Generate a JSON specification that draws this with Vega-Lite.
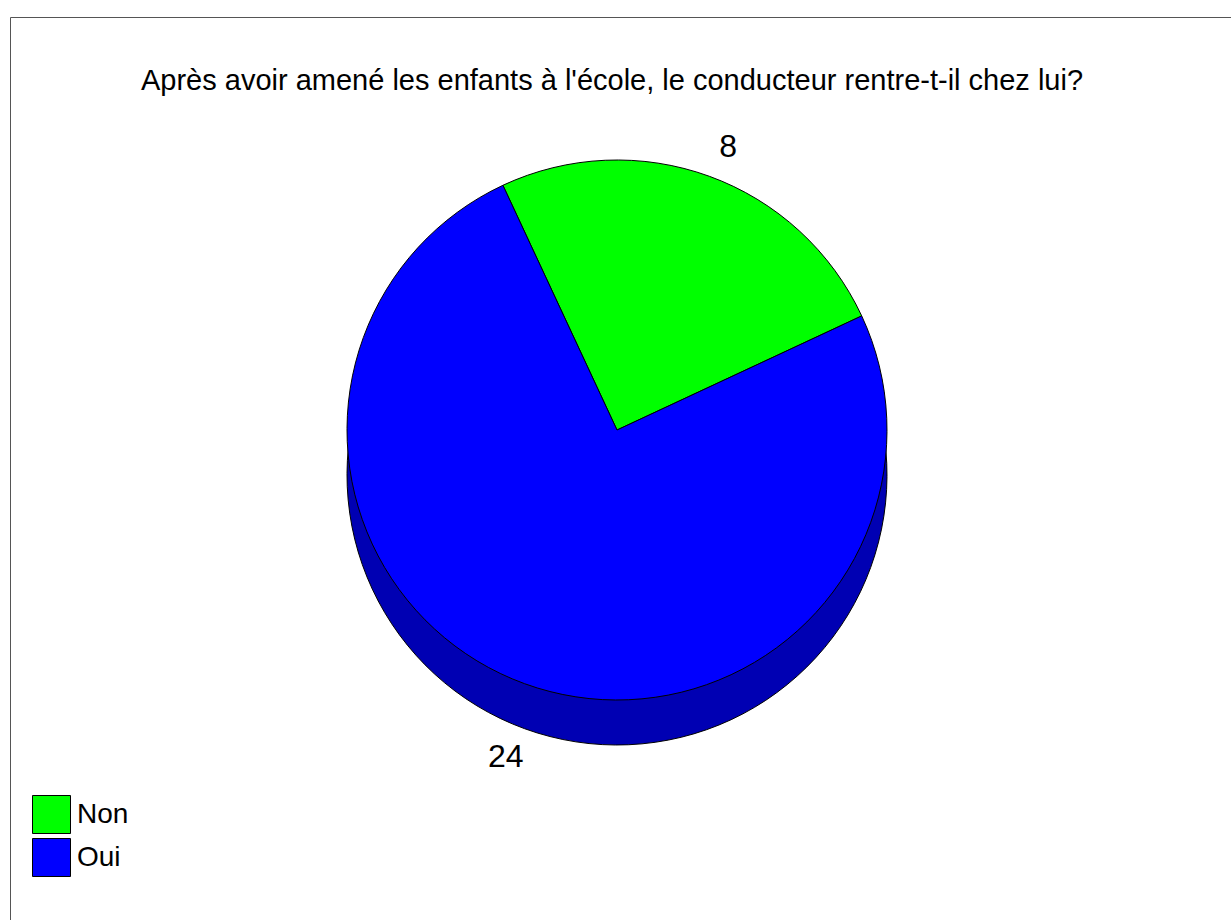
{
  "$schema": "https://vega.github.io/schema/vega-lite/v6.json",
  "autosize": "none",
  "width": 1240,
  "height": 930,
  "padding": {"left": 10, "top": 17, "right": 0, "bottom": 0},
  "background": "white",
  "view": {"stroke": "#555555", "strokeWidth": 1, "fill": "white"},
  "title": {
    "text": "Après avoir amené les enfants à l'école, le conducteur rentre-t-il chez lui?",
    "font": "Liberation Sans",
    "fontSize": 29,
    "fontWeight": "normal",
    "color": "black",
    "anchor": "middle",
    "baseline": "alphabetic",
    "offset": -102,
    "dx": -18
  },
  "data": {
    "values": [
      {"answer": "Non", "count": 8},
      {"answer": "Oui", "count": 24}
    ]
  },
  "encoding": {
    "theta": {
      "field": "count",
      "type": "quantitative",
      "stack": true,
      "scale": {"range": [5.8469, 12.1301]}
    }
  },
  "layer": [
    {
      "mark": {"type": "arc", "radius": 270, "xOffset": -13, "yOffset": -7, "stroke": "black", "strokeWidth": 1, "fill": "#0000b3"}
    },
    {
      "mark": {"type": "arc", "radius": 270, "xOffset": -13, "yOffset": -52, "stroke": "black", "strokeWidth": 1},
      "encoding": {
        "color": {
          "field": "answer",
          "type": "nominal",
          "scale": {"domain": ["Non", "Oui"], "range": ["#00ff00", "#0000ff"]},
          "legend": {
            "orient": "none",
            "legendX": 22,
            "legendY": 778,
            "title": null,
            "symbolType": "square",
            "symbolSize": 1444,
            "symbolStrokeColor": "black",
            "symbolStrokeWidth": 1,
            "symbolOpacity": 1,
            "labelFontSize": 28,
            "labelFont": "Liberation Sans",
            "labelColor": "black",
            "labelOffset": 6,
            "rowPadding": 0,
            "padding": 0
          }
        }
      }
    },
    {
      "mark": {"type": "text", "radius": 325, "xOffset": -13, "yOffset": -30, "fontSize": 32, "font": "Liberation Sans", "color": "black"},
      "encoding": {
        "text": {"field": "count", "type": "quantitative"}
      }
    }
  ],
  "config": {
    "view": {"stroke": "#555555", "strokeWidth": 1},
    "title": {"fontSize": 29, "font": "Liberation Sans"}
  }
}
